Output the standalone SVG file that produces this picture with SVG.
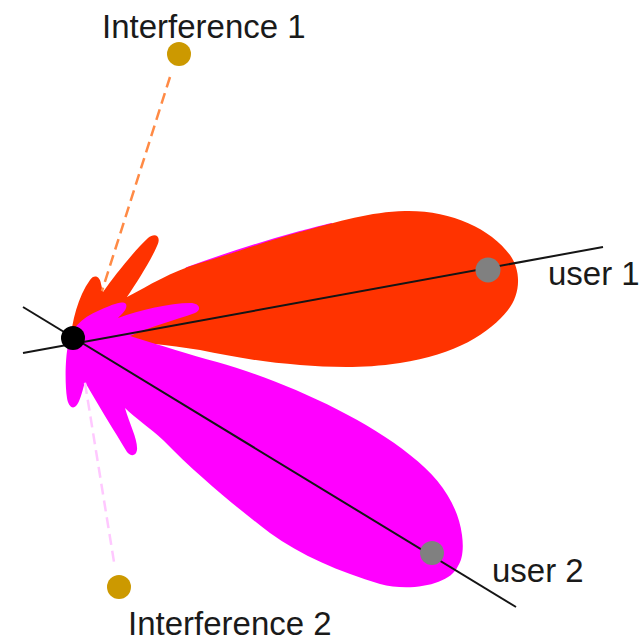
<svg xmlns="http://www.w3.org/2000/svg" width="643" height="642" viewBox="0 0 643 642">
  <style>
    .lbl { font-family: "Liberation Sans", Arial, sans-serif; font-size: 33px; fill: #1a1a1a; }
    .axis { stroke: #151515; stroke-width: 2; fill: none; }
    .dash1 { stroke: #ff8a45; stroke-width: 2.5; stroke-dasharray: 11 6; fill: none; }
    .dash2 { stroke: #ffc8ff; stroke-width: 2.5; stroke-dasharray: 11 6; fill: none; }
    .user { fill: #808080; }
    .intf { fill: #cc9900; }
  </style>
  <rect width="643" height="642" fill="#ffffff"/>

  <!-- beam patterns -->
  <g id="beams">
    <!-- edge of a magenta side lobe showing along the red beam -->
    <path d="M186,268.5 C220,256 260,243 300,232 C312,229 322,226 332,224" fill="none" stroke="#ff00ff" stroke-width="2"/>
    <!-- beam towards user 1 -->
    <path id="beam-user1" fill="#ff3300" d="M70,342 C72,322 78,296 90,280 C94,274 100,276 101,284 L103,292
      C115,275 135,250 148,238 C155,232 162,236 157,246 C150,262 137,282 127,297
      C150,285 170,272 200,263 C240,251 270,240 300,232 C340,221 370,212 405,211
      C450,210 490,228 510,255 C522,272 520,295 508,310 C490,333 455,355 400,363
      C360,369 330,367 300,365 C260,362 230,356 200,350 C160,343 120,340 70,342 Z"/>
    <!-- beam towards user 2 -->
    <path id="beam-user2" fill="#ff00ff" d="M68,345 C70,330 80,318 100,310 C112,305 122,300 126,304
      C128,309 122,314 118,318 C140,310 170,303 190,303 C200,303 202,310 195,313
      C175,320 150,327 130,336 C160,345 190,355 217,362
      C280,380 360,415 410,455 C440,478 458,505 462,535 C464,550 462,560 458,566
      C450,585 410,592 380,584 C340,572 300,555 270,533 C240,510 200,478 163,440
      C150,428 135,418 125,408
      C130,425 138,440 137,450 C136,457 130,456 127,452 C115,432 98,405 85,382
      C82,392 80,402 76,406 C72,410 68,405 67,398 C65,385 65,360 68,345 Z"/>
  </g>

  <!-- connectors -->
  <g id="connectors">
    <line class="dash1" x1="170" y1="77" x2="102" y2="291"/>
    <line class="dash2" x1="85" y1="383" x2="114" y2="562"/>
    <line class="axis" x1="23" y1="353" x2="603" y2="247"/>
    <line class="axis" x1="23" y1="307" x2="516" y2="607"/>
  </g>

  <!-- nodes -->
  <g id="base-station">
    <circle cx="73" cy="338" r="12" fill="#000000"/>
  </g>
  <g id="user1">
    <circle class="user" cx="488" cy="270" r="12.5"/>
    <text class="lbl" x="548" y="285">user 1</text>
  </g>
  <g id="user2">
    <circle class="user" cx="432" cy="553" r="12"/>
    <text class="lbl" x="492" y="582">user 2</text>
  </g>
  <g id="interference1">
    <circle class="intf" cx="179" cy="54" r="12"/>
    <text class="lbl" x="102" y="38">Interference 1</text>
  </g>
  <g id="interference2">
    <circle class="intf" cx="119" cy="587" r="12"/>
    <text class="lbl" x="128" y="635">Interference 2</text>
  </g>
</svg>
